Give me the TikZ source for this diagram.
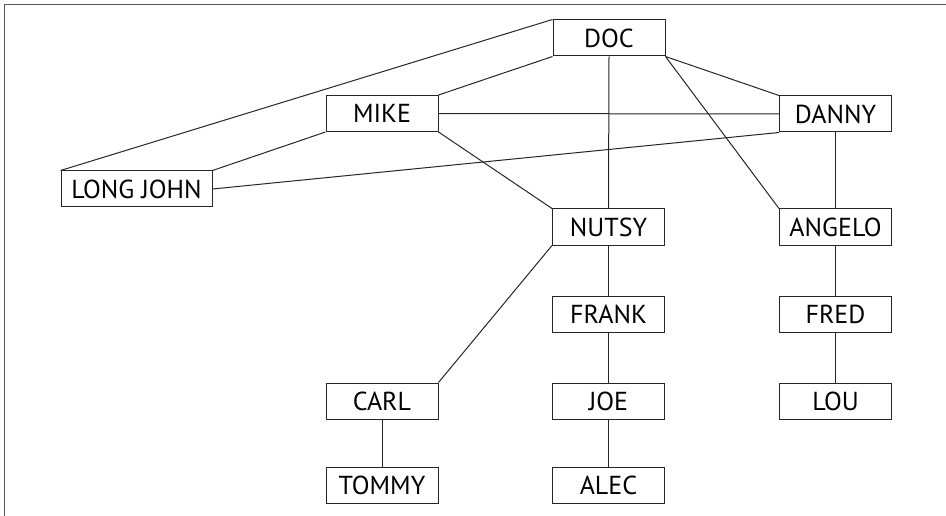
\documentclass[tikz,border=0pt]{standalone}
\usepackage{fontspec}
\setmainfont{PT Sans}
\begin{document}
\begin{tikzpicture}[x=1pt,y=-1pt,
  person/.style={draw=black!85, line width=1pt, rectangle, minimum width=112pt, minimum height=36pt, inner sep=0pt, font=\fontsize{26}{26}\selectfont, text=black},
  link/.style={draw=black!85, line width=1pt}]
\useasboundingbox (0,0) rectangle (946,516);
\draw[black!65, line width=1.6pt] (4.5,516) -- (4.5,4.5) -- (946,4.5);
\node[person] (doc) at (609,38) {DOC};
\node[person] (mike) at (382,113.5) {MIKE};
\node[person] (danny) at (835.5,114) {DANNY};
\node[person, minimum width=151pt] (lj) at (136.5,189) {LONG JOHN};
\node[person] (nutsy) at (608.5,227) {NUTSY};
\node[person] (angelo) at (835.5,227) {ANGELO};
\node[person] (frank) at (608.5,314) {FRANK};
\node[person] (fred) at (835.5,314) {FRED};
\node[person] (carl) at (382,401) {CARL};
\node[person] (joe) at (608.5,401) {JOE};
\node[person] (lou) at (835.5,401) {LOU};
\node[person] (tommy) at (382,485.5) {TOMMY};
\node[person] (alec) at (608.5,485.5) {ALEC};
\draw[link] (doc.north west) -- (lj.north west);
\draw[link] (doc.south west) -- (mike.north east);
\draw[link] (doc.south) -- (nutsy.north);
\draw[link] (doc.south east) -- (danny.north west);
\draw[link] (doc.south east) -- (angelo.north west);
\draw[link] (mike.east) -- (danny.west);
\draw[link] (mike.south west) -- (lj.north east);
\draw[link] (mike.south east) -- (nutsy.north west);
\draw[link] (lj.east) -- (danny.south west);
\draw[link] (danny.south) -- (angelo.north);
\draw[link] (angelo.south) -- (fred.north);
\draw[link] (fred.south) -- (lou.north);
\draw[link] (nutsy.south west) -- (carl.north east);
\draw[link] (nutsy.south) -- (frank.north);
\draw[link] (frank.south) -- (joe.north);
\draw[link] (joe.south) -- (alec.north);
\draw[link] (carl.south) -- (tommy.north);
\end{tikzpicture}
\end{document}
